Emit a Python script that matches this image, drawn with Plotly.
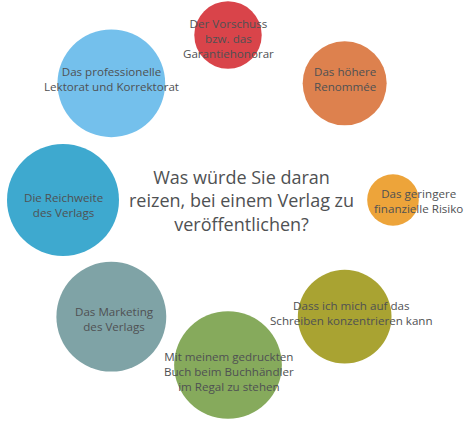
import math
import plotly.graph_objects as go

# -------------------------------------------------
# Daten
# -------------------------------------------------
labels = [
    "Der Vorschuss<br>bzw. das<br>Garantiehonorar",
    "Das höhere<br>Renommée",
    "Das geringere<br>finanzielle Risiko",
    "Dass ich mich auf das<br>Schreiben konzentrieren kann",
    "Mit meinem gedruckten<br>Buch beim Buchhändler<br>im Regal zu stehen",
    "Das Marketing<br>des Verlags",
    "Die Reichweite<br>des Verlags",
    "Das professionelle<br>Lektorat und Korrektorat",
]
values = [29, 45, 17, 56, 74, 77, 80, 74]
colors = ["#D9444A", "#DD814E", "#EDA43A", "#A9A332",
          "#86AA5C", "#7FA3A6", "#3EA9CF", "#74C0EC"]

question = "Was würde Sie daran<br>reizen, bei einem Verlag zu<br>veröffentlichen?"

# -------------------------------------------------
# Layout: Kreise rund um die Frage
# -------------------------------------------------
cx, cy, ring = 228, 200, 165
n = len(labels)
xs = [cx + ring * math.sin(2 * math.pi * i / n) for i in range(n)]
ys = [cy - ring * math.cos(2 * math.pi * i / n) for i in range(n)]

# kleine Verschiebungen der Beschriftungen (px)
label_shift = [(0, 3), (0, -4), (25, 1), (7, -4), (1, 6), (3, 2), (0, 5), (0, -4)]
text_color = "#4f5153"

fig = go.Figure()

fig.add_trace(go.Scatter(
    x=xs, y=ys,
    mode="markers",
    marker=dict(
        size=values, sizemode="area", sizeref=2 * 80 / 112 ** 2,
        color=colors, line=dict(width=0), opacity=1,
    ),
    hoverinfo="skip",
    showlegend=False,
))

for x, y, txt, (dx, dy) in zip(xs, ys, labels, label_shift):
    fig.add_annotation(
        x=x, y=y, text=txt, showarrow=False,
        xshift=dx, yshift=-dy,
        font=dict(family="Open Sans", size=11.6, color=text_color),
        align="center",
    )

fig.add_annotation(
    x=241, y=200, text=question, showarrow=False,
    font=dict(family="Open Sans", size=18, color=text_color),
    align="center",
)

fig.update_layout(
    width=468, height=425,
    margin=dict(l=0, r=0, t=0, b=0),
    paper_bgcolor="white", plot_bgcolor="white",
    xaxis=dict(range=[0, 468], visible=False, fixedrange=True),
    yaxis=dict(range=[425, 0], visible=False, fixedrange=True),
)

# Body-Rand entfernen, damit die Grafik exakt im Fenster sitzt
fig.write_html("out.html", config={"displayModeBar": False},
               post_script="document.body.style.margin='0';")
